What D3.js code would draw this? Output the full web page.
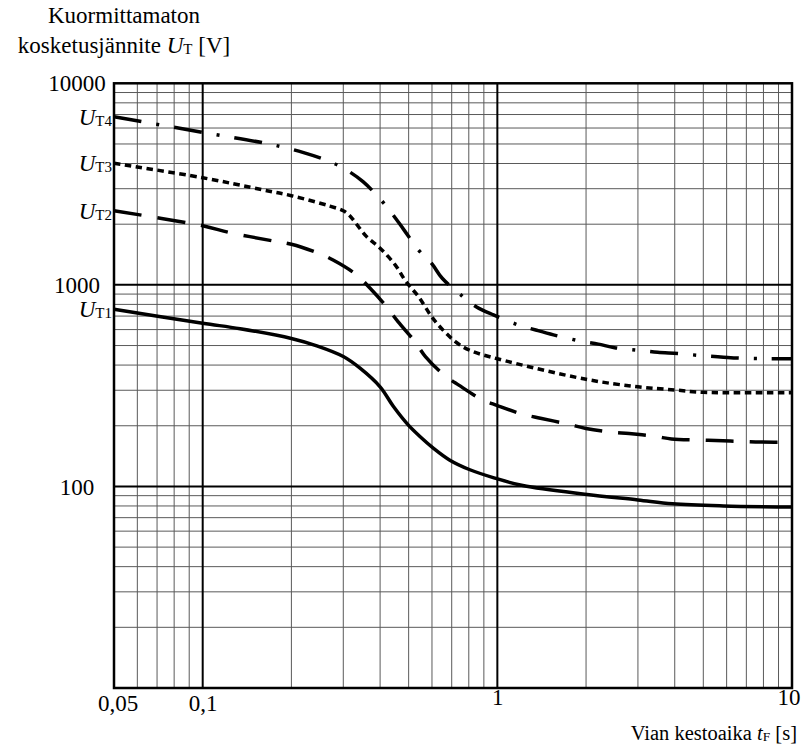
<!DOCTYPE html>
<html><head><meta charset="utf-8">
<script src="https://cdn.jsdelivr.net/npm/d3@7"></script>
<style>
body{margin:0;background:#fff}
text{font-family:"Liberation Serif","Tinos","Times New Roman",serif;fill:#000}
</style>
</head><body><svg id="c" width="802" height="747"></svg>
<script>
// ---- data ----
const xTicks = [0.05, 0.1, 1, 10];
const xTickLabels = ["0,05", "0,1", "1", "10"];
const yTicks = [10000, 1000, 100];
const yTickLabels = ["10000", "1000", "100"];
const xMajor = [0.1, 1];
const yMajor = [100, 1000];
const seriesNames = ["T1", "T2", "T3", "T4"];

const t1 = [0.05,0.1,0.134,0.2,0.244,0.3,0.342,0.4,0.444,0.498,0.546,0.606,0.69,0.807,0.98,1.22,1.98,3,3.93,5.85,10];
const u1 = [757,645,606,542,498,441,386,312,249,202,177,155,135,121,110,101,91.5,85.7,82,80,79];

const t2 = [0.05,0.1,0.124,0.174,0.2,0.247,0.277,0.331,0.37,0.42,0.46,0.525,0.57,0.66,0.74,0.885,1.0,1.22,1.4,1.73,2,2.44,2.8,3.45,3.9,4.9,5.5,6.9,7.8,10];
const u2 = [2330,1966,1815,1650,1590,1435,1329,1129,962,781,657,523,441,357,318,270,252,228,218,204,194,186,183,177,172,170,169,167,166,166];

const t3 = [0.05,0.1,0.16,0.2,0.27,0.3,0.314,0.36,0.4,0.45,0.49,0.54,0.61,0.72,0.81,1,2,3,4,5,10];
const u3 = [4010,3400,2960,2770,2460,2330,2220,1735,1520,1257,1037,874,670,523,472,430,340,312,301,293,292];

const t4 = [0.05,0.1,0.17,0.22,0.27,0.31,0.35,0.40,0.44,0.48,0.54,0.6,0.65,0.76,0.85,0.97,1.18,1.35,1.55,1.9,2.2,2.5,3.1,3.5,4.1,5.1,5.85,6.7,8.35,10];
const u4 = [6830,5710,4980,4530,4090,3690,3250,2670,2250,1890,1490,1270,1078,880,777,709,632,597,565,527,508,488,472,463,456,444,438,433,430,430];

// ---- chart ----
const svg = d3.select("#c");
const L = 114, R = 792, T = 83.3, B = 688;
const x = d3.scaleLog().domain([0.05, 10]).range([L, R]);
const y = d3.scaleLog().domain([10, 10000]).range([B, T]);

const grid = svg.append("g");
// minor grid
grid.selectAll("line.vx").data(x.ticks().filter(v => !xMajor.includes(v) && v > 0.05 && v < 10))
  .join("line").attr("class","vx").attr("x1", d => x(d)).attr("x2", d => x(d)).attr("y1", T).attr("y2", B)
  .attr("stroke", "#5a5a5a").attr("stroke-width", 1);
grid.selectAll("line.hy").data(y.ticks().filter(v => !yMajor.includes(v) && v > 10 && v < 10000))
  .join("line").attr("class","hy").attr("y1", d => y(d)).attr("y2", d => y(d)).attr("x1", L).attr("x2", R)
  .attr("stroke", "#5a5a5a").attr("stroke-width", 1);
// major grid
grid.selectAll("line.mx").data(xMajor).join("line").attr("class","mx")
  .attr("x1", d => x(d)).attr("x2", d => x(d)).attr("y1", T).attr("y2", B)
  .attr("stroke", "#000").attr("stroke-width", 2);
grid.selectAll("line.my").data(yMajor).join("line").attr("class","my")
  .attr("y1", d => y(d)).attr("y2", d => y(d)).attr("x1", L).attr("x2", R)
  .attr("stroke", "#000").attr("stroke-width", 2);
// border
svg.append("rect").attr("x", L).attr("y", T).attr("width", R - L).attr("height", B - T)
  .attr("fill", "none").attr("stroke", "#000").attr("stroke-width", 2.5);

// curves
const series = [
  {t: t1, u: u1, dash: null},
  {t: t2, u: u2, dash: "28,16"},
  {t: t3, u: u3, dash: "6.5,4.5"},
  {t: t4, u: u4, dash: "28,15,3,15"}
];
const line = d3.line().x(d => x(d[0])).y(d => y(d[1])).curve(d3.curveCatmullRom.alpha(0.5));
series.forEach(s => {
  svg.append("path").datum(s.t.map((v, i) => [v, s.u[i]]))
    .attr("d", line).attr("fill", "none").attr("stroke", "#000")
    .attr("stroke-width", 3.5).attr("stroke-dasharray", s.dash);
});

// x axis labels
const xa = svg.append("g").attr("transform", `translate(0,${B})`)
  .call(d3.axisBottom(x).tickValues(xTicks).tickFormat((d, i) => xTickLabels[i]).tickSize(0).tickPadding(1));
xa.select(".domain").remove();
xa.selectAll("text").attr("font-size", 23).attr("font-family", "Liberation Serif, Tinos, serif")
  .attr("dy", null).attr("y", (d) => d < 0.5 ? 23 : 17);
xa.selectAll(".tick").filter(d => d === 0.05).attr("transform", `translate(${x(0.05) + 4},0)`);
xa.selectAll(".tick").filter(d => d === 10).select("text").attr("text-anchor", "end").attr("x", 800 - x(10));

// y axis labels
const ya = svg.append("g").attr("transform", `translate(${L},0)`)
  .call(d3.axisLeft(y).tickValues(yTicks).tickFormat((d, i) => yTickLabels[i]).tickSize(0));
ya.select(".domain").remove();
ya.selectAll("text").attr("font-size", 23).attr("font-family", "Liberation Serif, Tinos, serif")
  .attr("text-anchor", "middle").attr("x", 77 - L).attr("dy", "0.33em");

// U_T labels
series.forEach((s, i) => {
  const tx = svg.append("text").attr("x", 112).attr("y", y(s.u[0]) + 8)
    .attr("text-anchor", "end").attr("font-size", 23);
  tx.append("tspan").attr("font-style", "italic").text("U");
  tx.append("tspan").attr("font-size", 15).attr("dy", 1).text(seriesNames[i]);
});

// titles
svg.append("text").attr("x", 124).attr("y", 23).attr("text-anchor", "middle").attr("font-size", 23)
  .text("Kuormittamaton");
const t2t = svg.append("text").attr("x", 124).attr("y", 53).attr("text-anchor", "middle").attr("font-size", 23);
t2t.append("tspan").text("kosketusjännite ");
t2t.append("tspan").attr("font-style", "italic").text("U");
t2t.append("tspan").attr("font-size", 15).attr("dy", 1).text("T");
t2t.append("tspan").attr("dy", -1).text(" [V]");

const xl = svg.append("text").attr("x", 797).attr("y", 740).attr("text-anchor", "end").attr("font-size", 20.5);
xl.append("tspan").text("Vian kestoaika ");
xl.append("tspan").attr("font-style", "italic").text("t");
xl.append("tspan").attr("font-size", 13.5).attr("dy", 1).text("F");
xl.append("tspan").attr("dy", -1).text(" [s]");
</script>
</body></html>
